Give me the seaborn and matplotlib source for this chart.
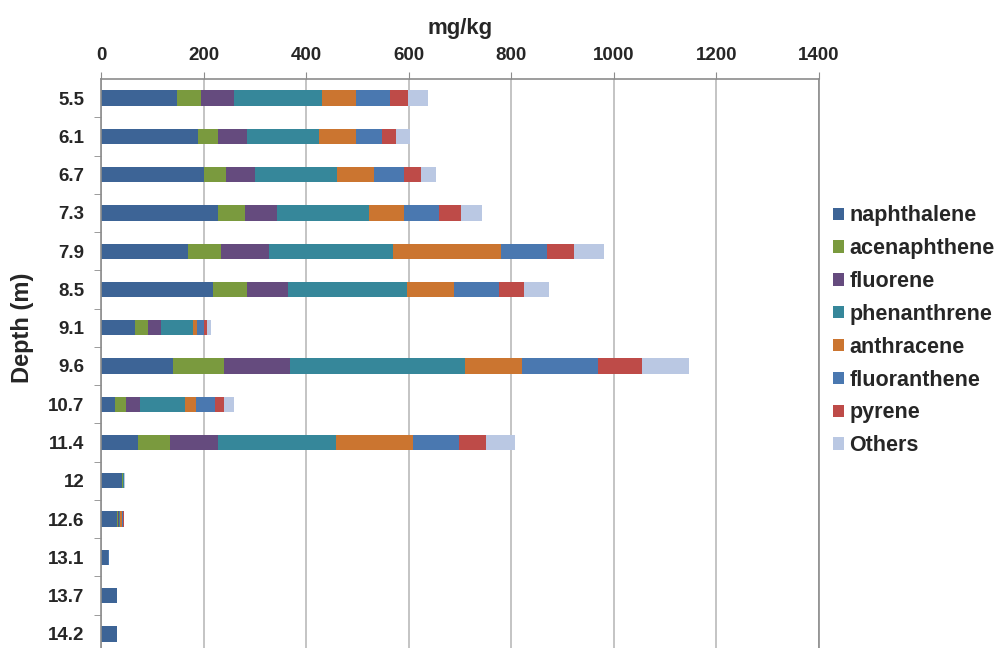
import numpy as np
import pandas as pd
import seaborn as sns
import matplotlib.pyplot as plt
from matplotlib.patches import Patch

# depths (m) and PAH concentrations (mg/kg)
depths = ['5.5', '6.1', '6.7', '7.3', '7.9', '8.5', '9.1', '9.6',
          '10.7', '11.4', '12', '12.6', '13.1', '13.7', '14.2']
naphthalene  = [149, 190, 200, 229, 169, 219, 66, 140, 28, 73, 41, 32, 14, 32, 31]
acenaphthene = [46, 39, 44, 51, 65, 65, 26, 99, 21, 61, 2, 2, 0, 0, 1]
fluorene     = [64, 55, 57, 63, 94, 81, 25, 130, 28, 94, 0, 1, 0, 0, 0]
phenanthrene = [171, 141, 160, 180, 241, 231, 62, 340, 86, 230, 1, 3, 0, 0, 0]
anthracene   = [68, 72, 72, 67, 211, 92, 9, 111, 22, 151, 0, 3, 0, 0, 0]
fluoranthene = [65, 51, 57, 70, 89, 89, 13, 150, 37, 90, 1, 1, 1, 0, 0]
pyrene       = [36, 27, 34, 41, 54, 48, 6, 84, 18, 52, 0, 2, 0, 0, 0]
others       = [38, 28, 30, 41, 58, 49, 7, 92, 20, 56, 2, 0, 0, 0, 0]

names = ['naphthalene', 'acenaphthene', 'fluorene', 'phenanthrene',
         'anthracene', 'fluoranthene', 'pyrene', 'Others']
series = [naphthalene, acenaphthene, fluorene, phenanthrene,
          anthracene, fluoranthene, pyrene, others]
colors = ['#3d6496', '#7a9a3e', '#654b7e', '#36879a',
          '#cb7530', '#4a78b0', '#be4b48', '#bac8e3']

df = pd.DataFrame(dict(zip(names, series)), index=depths)
cum = df.cumsum(axis=1)

sns.set_style('white')
plt.rcParams['font.family'] = ['Liberation Sans', 'DejaVu Sans']
plt.rcParams['font.weight'] = 'bold'

fig = plt.figure(figsize=(10.05, 6.48), dpi=100)
ax = fig.add_axes([101 / 1005, -5 / 648, 718 / 1005, 574 / 648])

# stacked bars: draw cumulative totals from the last series back to the first
for name, col in reversed(list(zip(names, colors))):
    d = pd.DataFrame({'depth': depths, 'val': cum[name].values})
    sns.barplot(data=d, x='val', y='depth', order=depths, color=col,
                orient='h', width=0.4, errorbar=None, saturation=1,
                linewidth=0, ax=ax)

ax.set_xlim(0, 1400)
ax.set_xticks(range(0, 1401, 200))
ax.xaxis.tick_top()
ax.xaxis.set_label_position('top')
ax.set_xlabel('mg/kg', fontsize=16, fontweight='bold', labelpad=9)
ax.set_ylabel('Depth (m)', fontsize=17, fontweight='bold')
ax.yaxis.set_label_coords(-0.093, 0.566)
ax.grid(axis='x', color='#bfbfbf', linewidth=1.3)
ax.set_axisbelow(True)
ax.tick_params(axis='x', labelsize=13.5, length=5, color='#8c8c8c', pad=6)
ax.tick_params(axis='y', labelsize=13.5, length=0, pad=12)
for lab in ax.get_xticklabels() + ax.get_yticklabels():
    lab.set_fontweight('bold')
ax.set_yticks(np.arange(len(depths)) + 0.5, minor=True)
ax.tick_params(axis='y', which='minor', length=5, color='#8c8c8c', left=True)

for s in ['top', 'left', 'right']:
    ax.spines[s].set_visible(True)
    ax.spines[s].set_color('#8c8c8c')
    ax.spines[s].set_linewidth(1.2)
ax.spines['bottom'].set_visible(False)

handles = [Patch(facecolor=c, edgecolor='none') for c in colors]
fig.legend(handles, names, loc='upper left', bbox_to_anchor=(814 / 1005, 1 - 186 / 648),
           frameon=False, prop={'size': 15.5, 'weight': 'bold'},
           handlelength=0.5, handleheight=0.5, handletextpad=0.25,
           labelspacing=0.55)

fig.savefig('out.png', dpi=100)
